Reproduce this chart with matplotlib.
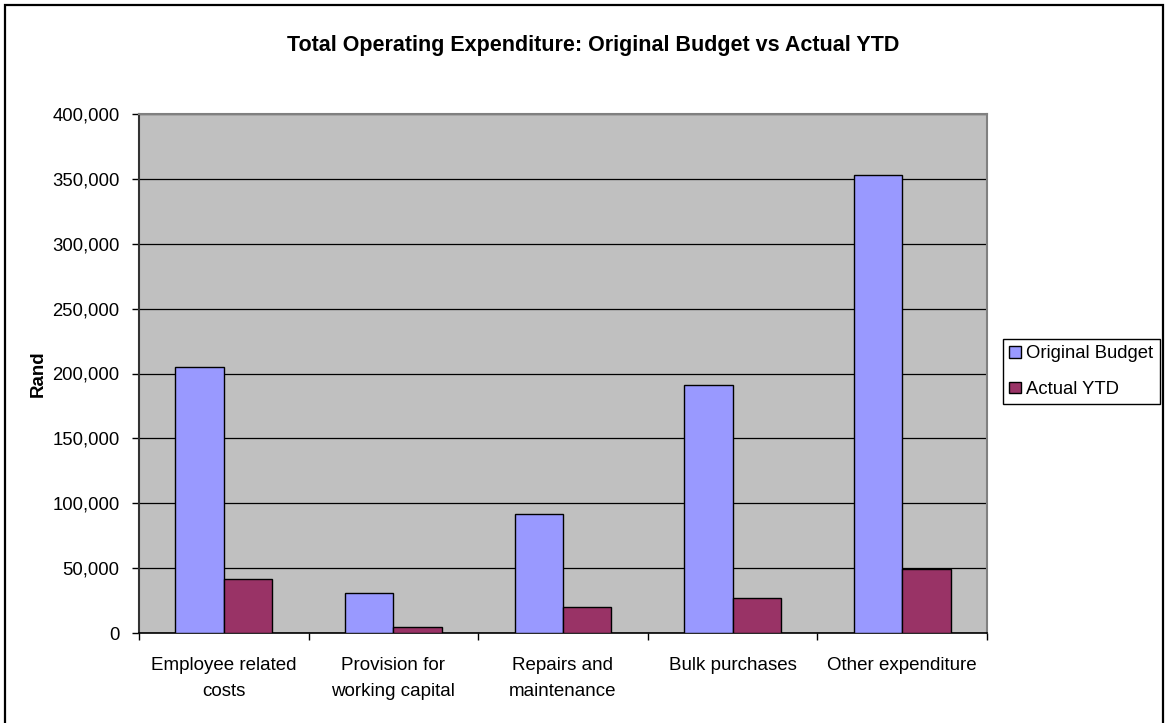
import matplotlib
matplotlib.use("Agg")
import matplotlib.pyplot as plt
import numpy as np
from matplotlib.ticker import FuncFormatter, MultipleLocator, FixedLocator
from matplotlib.patches import Rectangle

plt.rcParams['font.family'] = ['Liberation Sans', 'DejaVu Sans']

# Chart data
categories = ["Employee related\ncosts", "Provision for\nworking capital",
              "Repairs and\nmaintenance", "Bulk purchases", "Other expenditure"]
original_budget = [205000, 31000, 92000, 191000, 353000]
actual_ytd = [42000, 5000, 20000, 27000, 49500]
series_names = ["Original Budget", "Actual YTD"]
series_colors = ["#9999FF", "#993366"]

W, H = 1165, 723
fig = plt.figure(figsize=(W / 100, H / 100), dpi=100)
fig.patch.set_facecolor("white")

# Outer chart border
fig.patches.append(Rectangle((5 / W, -0.01), (1163 - 5) / W, 1 - 5 / H + 0.01,
                             transform=fig.transFigure, fill=False,
                             edgecolor="black", linewidth=1.6))

left, right, top, bottom = 139, 987, 114, 633
ax = fig.add_axes([left / W, 1 - bottom / H, (right - left) / W, (bottom - top) / H])
ax.set_facecolor("#C0C0C0")

n = len(categories)
x = np.arange(n)
bw = 1 / 3.5
ax.bar(x - bw / 2, original_budget, width=bw, color=series_colors[0],
       edgecolor="black", linewidth=1.0, label=series_names[0], zorder=3)
ax.bar(x + bw / 2, actual_ytd, width=bw, color=series_colors[1],
       edgecolor="black", linewidth=1.0, label=series_names[1], zorder=3)

ax.set_xlim(-0.5, n - 0.5)
ax.set_ylim(0, 400000)
ax.yaxis.set_major_locator(MultipleLocator(50000))
ax.yaxis.set_major_formatter(FuncFormatter(lambda v, p: f"{int(v):,}"))
ax.grid(axis="y", color="black", linewidth=0.9, zorder=1)
ax.set_axisbelow(True)

# Category labels centred, tick marks between categories
ax.set_xticks(x)
ax.set_xticklabels(categories, fontsize=13.5, linespacing=1.7)
ax.tick_params(axis="x", which="major", length=0, pad=17)
ax.xaxis.set_minor_locator(FixedLocator(np.arange(-0.5, n, 1.0)))
ax.tick_params(axis="x", which="minor", length=5, width=1, color="black", direction="out")
ax.tick_params(axis="y", length=5, width=1, color="black", direction="out",
               labelsize=13.3, pad=9)

for side in ["top", "right"]:
    ax.spines[side].set_color("#808080")
    ax.spines[side].set_linewidth(1.5)
ax.spines["left"].set_color("#333333")
ax.spines["left"].set_linewidth(1.5)
ax.spines["bottom"].set_color("black")
ax.spines["bottom"].set_linewidth(1.2)

fig.text(593 / W, 1 - 45 / H, "Total Operating Expenditure: Original Budget vs Actual YTD",
         ha="center", va="center", fontsize=15.5, fontweight="bold")
fig.text(38 / W, 1 - 374 / H, "Rand", ha="center", va="center", rotation=90,
         fontsize=13.5, fontweight="bold")

leg = fig.legend(loc="upper left", bbox_to_anchor=(1003 / W, 1 - 339 / H),
                 bbox_transform=fig.transFigure, fontsize=13.3, frameon=True,
                 fancybox=False, framealpha=1, edgecolor="black",
                 handlelength=0.6, handleheight=0.6, handletextpad=0.3,
                 labelspacing=1.0, borderpad=0.35, borderaxespad=0)
leg.get_frame().set_linewidth(1.0)

fig.savefig("out.png", dpi=100, facecolor="white")
